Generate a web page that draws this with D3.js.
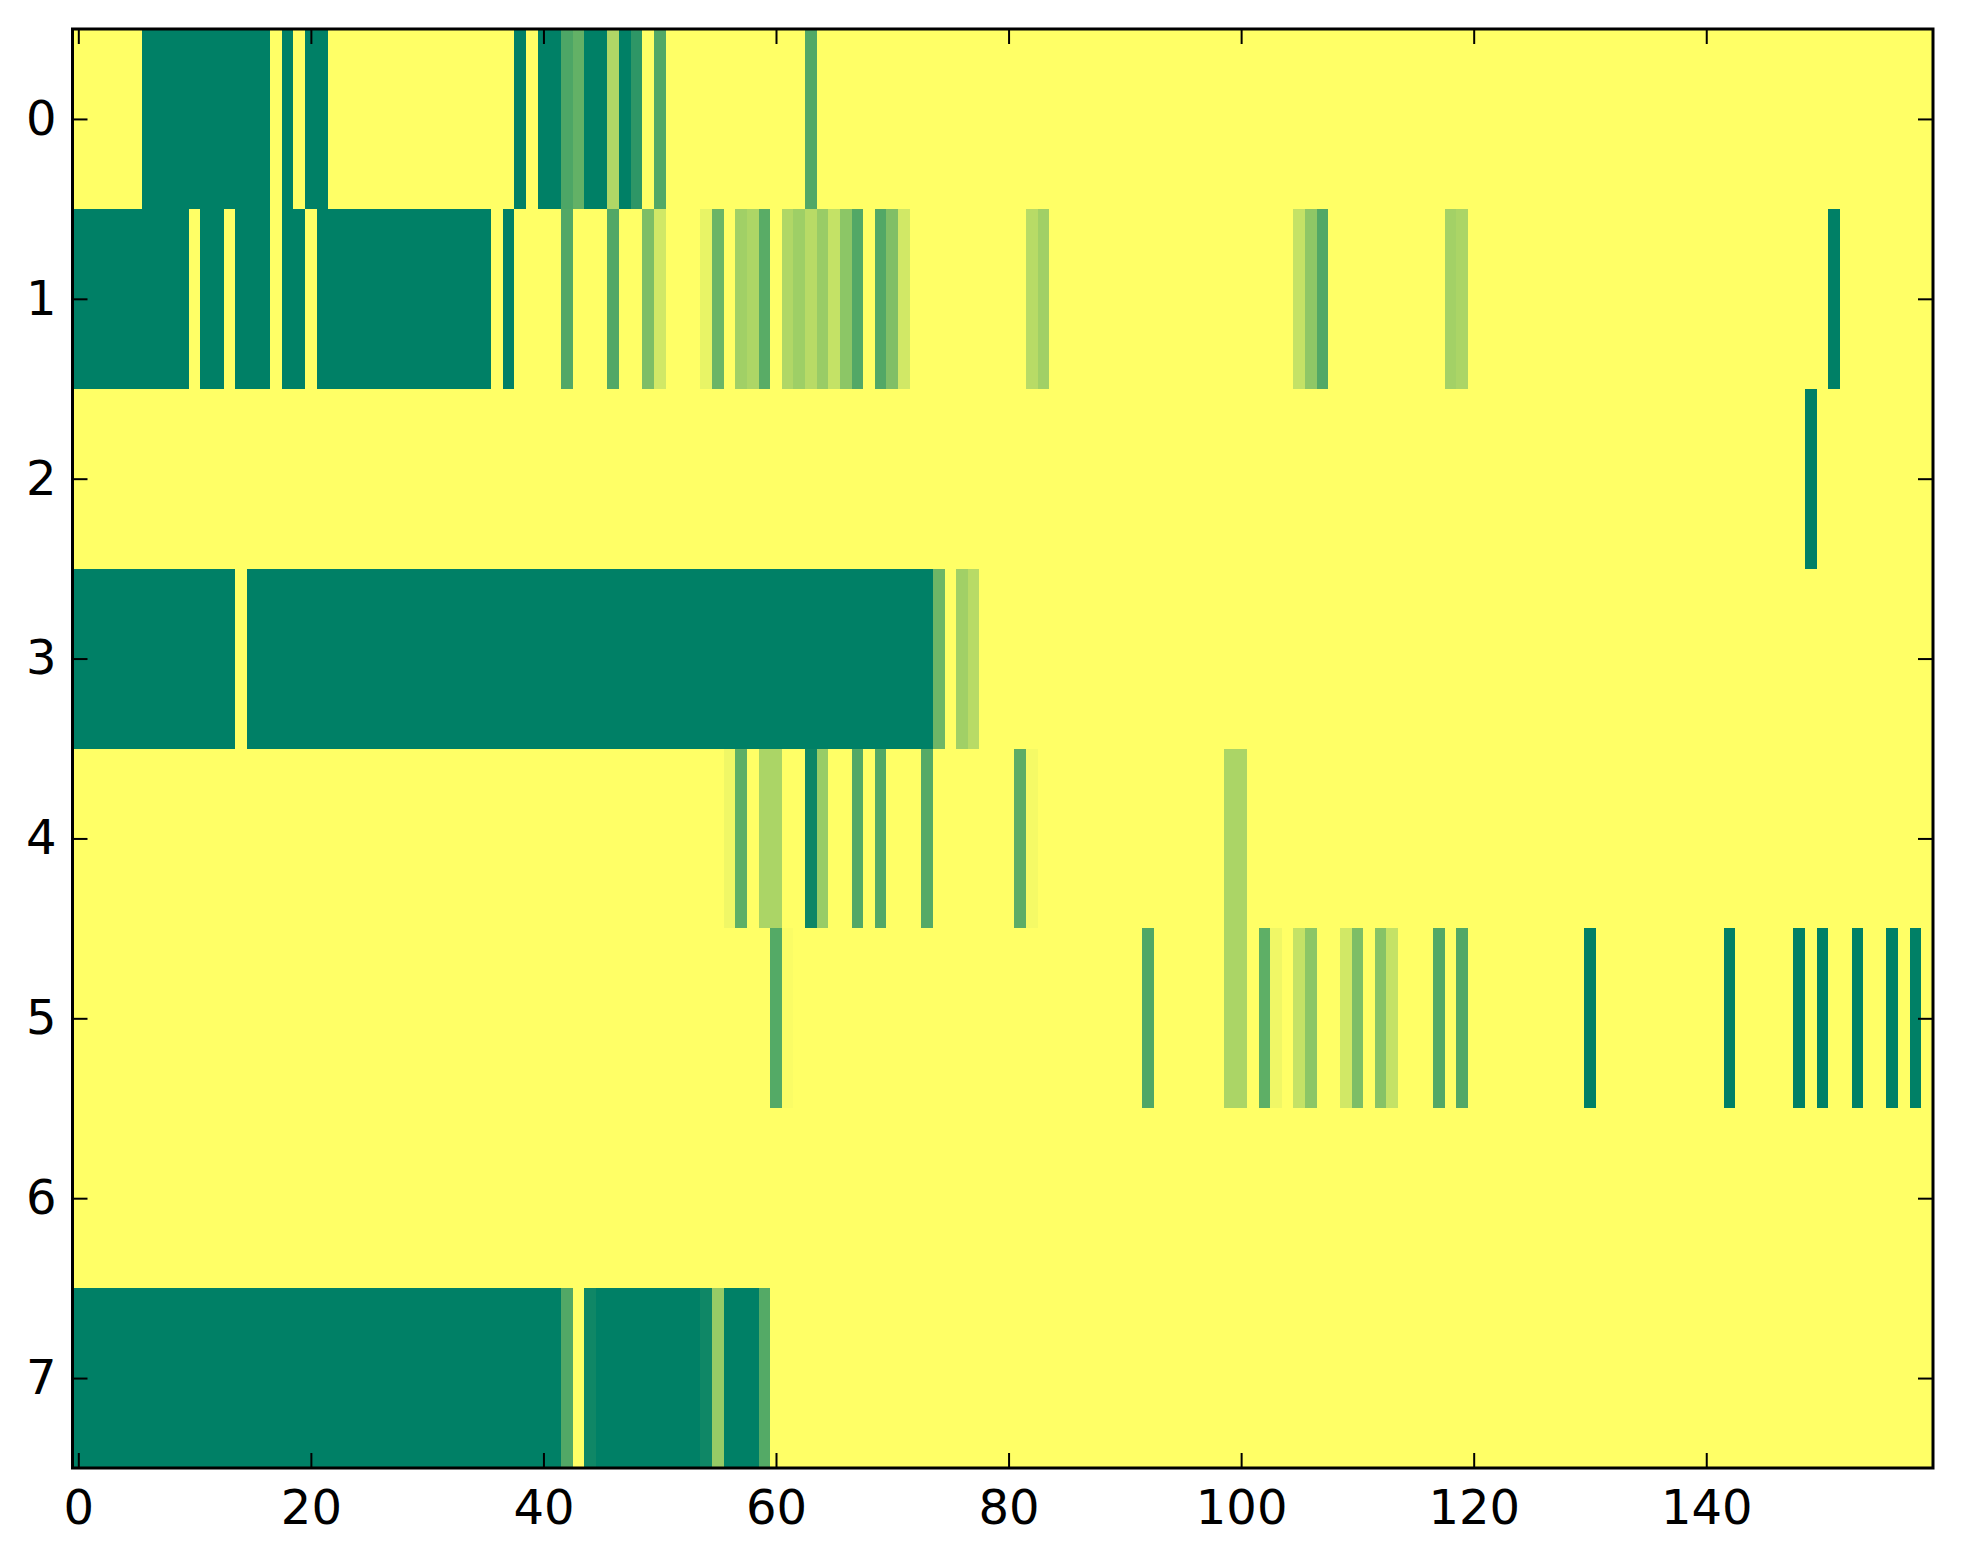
<!DOCTYPE html>
<html>
<head>
<meta charset="utf-8">
<script src="https://cdn.jsdelivr.net/npm/d3@7"></script>
<style>
    html, body { margin: 0; padding: 0; background: #fff; }
    svg { display: block; }
</style>
</head>
<body>
<div id="chart"></div>
<script>
// Grid size
const nRows = 8;
const nCols = 160;

// Non-zero cells per row as [firstCol, lastCol, value], everything else is 0
const row0 = [[6, 16, 1], [18, 18, 1], [20, 21, 1], [38, 38, 1], [40, 41, 1], [42, 42, 0.7], [43, 43, 0.61],
    [44, 45, 1], [46, 46, 0.31], [47, 47, 1], [48, 48, 0.82], [50, 50, 0.68], [63, 63, 0.68]];
const row1 = [[0, 9, 1], [11, 12, 1], [14, 16, 1], [18, 19, 1], [21, 35, 1], [37, 37, 1], [42, 42, 0.68],
    [46, 46, 0.68], [49, 49, 0.51], [50, 50, 0.18], [54, 54, 0.09], [55, 55, 0.58], [57, 57, 0.37],
    [58, 58, 0.32], [59, 59, 0.65], [61, 61, 0.31], [62, 62, 0.38], [63, 63, 0.28], [64, 64, 0.4],
    [65, 65, 0.23], [66, 66, 0.45], [67, 67, 0.68], [69, 69, 0.68], [70, 70, 0.5], [71, 71, 0.18],
    [82, 82, 0.28], [83, 83, 0.37], [105, 105, 0.23], [106, 106, 0.44], [107, 107, 0.68],
    [118, 118, 0.36], [119, 119, 0.33], [151, 151, 1]];
const row2 = [[149, 149, 1]];
const row3 = [[0, 13, 1], [15, 73, 1], [74, 74, 0.57], [76, 76, 0.37], [77, 77, 0.28]];
const row4 = [[56, 56, 0.06], [57, 57, 0.63], [59, 60, 0.33], [63, 63, 0.95], [64, 64, 0.4], [67, 67, 0.68],
    [69, 69, 0.68], [73, 73, 0.67], [81, 81, 0.64], [82, 82, 0.04], [99, 100, 0.33]];
const row5 = [[60, 60, 0.67], [61, 61, 0.02], [92, 92, 0.69], [99, 100, 0.33], [102, 102, 0.63],
    [103, 103, 0.06], [105, 105, 0.23], [106, 106, 0.45], [109, 109, 0.18], [110, 110, 0.51],
    [112, 112, 0.47], [113, 113, 0.23], [117, 117, 0.68], [119, 119, 0.68], [130, 130, 1],
    [142, 142, 1], [148, 148, 1], [150, 150, 1], [153, 153, 1], [156, 156, 1], [158, 158, 1]];
const row6 = [];
const row7 = [[0, 41, 1], [42, 42, 0.68], [44, 44, 0.94], [45, 53, 1], [54, 54, 0.94], [55, 55, 0.41],
    [56, 58, 1], [59, 59, 0.67]];

// Tick labels
const xTicks = [0, 20, 40, 60, 80, 100, 120, 140];
const yTicks = [0, 1, 2, 3, 4, 5, 6, 7];

const rows = [row0, row1, row2, row3, row4, row5, row6, row7];

// Layout
const width = 1963;
const height = 1564;
const plot = { left: 72.5, right: 1933, top: 29, bottom: 1468 };
const tickLen = 15;
const fontSize = 48;

//Expand the runs into a flat list of cells
function buildCells() {
    const cells = [];
    rows.forEach((runs, r) => {
        const vals = new Array(nCols).fill(0);
        runs.forEach(([a, b, v]) => {
            for (let c = a; c <= b; c++) vals[c] = v;
        });
        vals.forEach((v, c) => cells.push({ row: r, col: c, value: v }));
    });
    return cells;
}

// matplotlib "summer_r": 0 -> yellow, 1 -> green
const summerR = t => {
    const s = 1 - t;
    return d3.rgb(255 * s, 255 * (0.5 + 0.5 * s), 0.4 * 255).toString();
};

const x = d3.scaleLinear().domain([-0.5, nCols - 0.5]).range([plot.left, plot.right]);
const y = d3.scaleLinear().domain([-0.5, nRows - 0.5]).range([plot.top, plot.bottom]);
const color = d3.scaleSequential(summerR).domain([0, 1]);

const svg = d3.select("#chart")
    .append("svg")
    .attr("width", width)
    .attr("height", height);

svg.append("g")
    .attr("shape-rendering", "crispEdges")
    .selectAll("rect")
    .data(buildCells())
    .enter().append("rect")
    .attr("x", d => x(d.col - 0.5))
    .attr("y", d => y(d.row - 0.5))
    .attr("width", d => x(d.col + 0.5) - x(d.col - 0.5) + 0.3)
    .attr("height", d => y(d.row + 0.5) - y(d.row - 0.5) + 0.3)
    .attr("fill", d => color(d.value));

//Helper to style an axis group (d3 sets its own font on the group, so override it)
function styleAxis(g, showLabels) {
    g.attr("font-family", "'DejaVu Sans'").attr("font-size", fontSize);
    g.select(".domain").remove();
    g.selectAll(".tick line").attr("stroke", "#000").attr("stroke-width", 2);
    g.selectAll(".tick text")
        .attr("fill", "#000")
        .style("font-family", "'DejaVu Sans', sans-serif")
        .style("font-size", fontSize + "px")
        .style("display", showLabels ? null : "none");
}

svg.append("g")
    .attr("transform", `translate(0,${plot.bottom})`)
    .call(d3.axisBottom(x).tickValues(xTicks).tickSize(-tickLen).tickPadding(22))
    .call(g => styleAxis(g, true));

svg.append("g")
    .attr("transform", `translate(0,${plot.top})`)
    .call(d3.axisTop(x).tickValues(xTicks).tickSize(-tickLen))
    .call(g => styleAxis(g, false));

svg.append("g")
    .attr("transform", `translate(${plot.left},0)`)
    .call(d3.axisLeft(y).tickValues(yTicks).tickSize(-tickLen).tickPadding(16))
    .call(g => styleAxis(g, true));

svg.append("g")
    .attr("transform", `translate(${plot.right},0)`)
    .call(d3.axisRight(y).tickValues(yTicks).tickSize(-tickLen))
    .call(g => styleAxis(g, false));

// frame
svg.append("rect")
    .attr("x", plot.left)
    .attr("y", plot.top)
    .attr("width", plot.right - plot.left)
    .attr("height", plot.bottom - plot.top)
    .attr("fill", "none")
    .attr("stroke", "#000")
    .attr("stroke-width", 3);
</script>
</body>
</html>
